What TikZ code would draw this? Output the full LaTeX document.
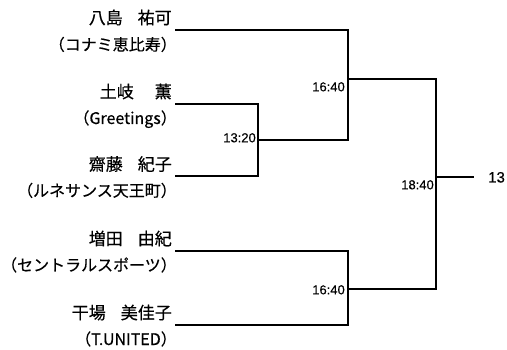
\documentclass[tikz,border=0pt]{standalone}
\usepackage{fontspec}
\newfontfamily\jp[FakeBold=0.4]{Noto Sans CJK JP}
\newfontfamily\ar[FakeBold=0.3]{Liberation Sans}
\begin{document}
\begin{tikzpicture}[x=1pt,y=-1pt,
  wire/.style={line width=2pt, line join=miter},
  pname/.style={anchor=base east, inner sep=0pt, font=\jp\fontsize{17}{17}\selectfont},
  team/.style={anchor=base east, inner sep=0pt, font=\jp\fontsize{16}{16}\selectfont},
  ttime/.style={anchor=base east, inner sep=0pt, font=\ar\fontsize{13}{13}\selectfont},
  result/.style={anchor=base west, inner sep=0pt, font=\ar\fontsize{15}{15}\selectfont}]
\useasboundingbox (0,0) rectangle (507,350);
% names
\node[pname] (n1) at (172,24) {八島\hspace{15pt}祐可};
\node[team]  (t1) at (177,50.5) {（コナミ恵比寿）};
\node[pname] (n2) at (172,98) {土岐\hspace{21pt}薫};
\node[team]  (t2) at (177,124) {（Greetings）};
\node[pname] (n3) at (172,170.5) {齋藤\hspace{15pt}紀子};
\node[team]  (t3) at (177,196.5) {（ルネサンス天王町）};
\node[pname] (n4) at (172,245) {増田\hspace{15pt}由紀};
\node[team]  (t4) at (177,271) {（セントラルスポーツ）};
\node[pname] (n5) at (172,319) {干場\hspace{15pt}美佳子};
\node[team]  (t5) at (177,345) {（T.UNITED）};
% coordinates
\coordinate (p1) at (175,30);
\coordinate (p2) at (175,104);
\coordinate (p3) at (175,176.5);
\coordinate (p4) at (175,251);
\coordinate (p5) at (175,325);
\coordinate (q2) at (258,104);
\coordinate (q3) at (258,176.5);
\coordinate (r1) at (258,140);
\coordinate (s1) at (348,30);
\coordinate (s2) at (348,140);
\coordinate (s4) at (348,251);
\coordinate (s5) at (348,325);
\coordinate (m1) at (348,79);
\coordinate (m2) at (348,289);
\coordinate (u1) at (436,79);
\coordinate (u2) at (436,289);
\coordinate (v) at (436,177);
\coordinate (w) at (474,177);
% bracket
\draw[wire] (p2) -- (q2) -- (q3) -- (p3);
\draw[wire] (r1) -- (s2) -- (s1) -- (p1);
\draw[wire] (p4) -- (s4) -- (s5) -- (p5);
\draw[wire] (m1) -- (u1) -- (u2) -- (m2);
\draw[wire] (v) -- (w);
% times
\node[ttime] (k1) at (256,142.3) {13:20};
\node[ttime] (k2) at (345,91.3) {16:40};
\node[ttime] (k3) at (434,189.3) {18:40};
\node[ttime] (k4) at (345,294.3) {16:40};
\node[result] (res) at (488,182.5) {13};
\end{tikzpicture}
\end{document}
